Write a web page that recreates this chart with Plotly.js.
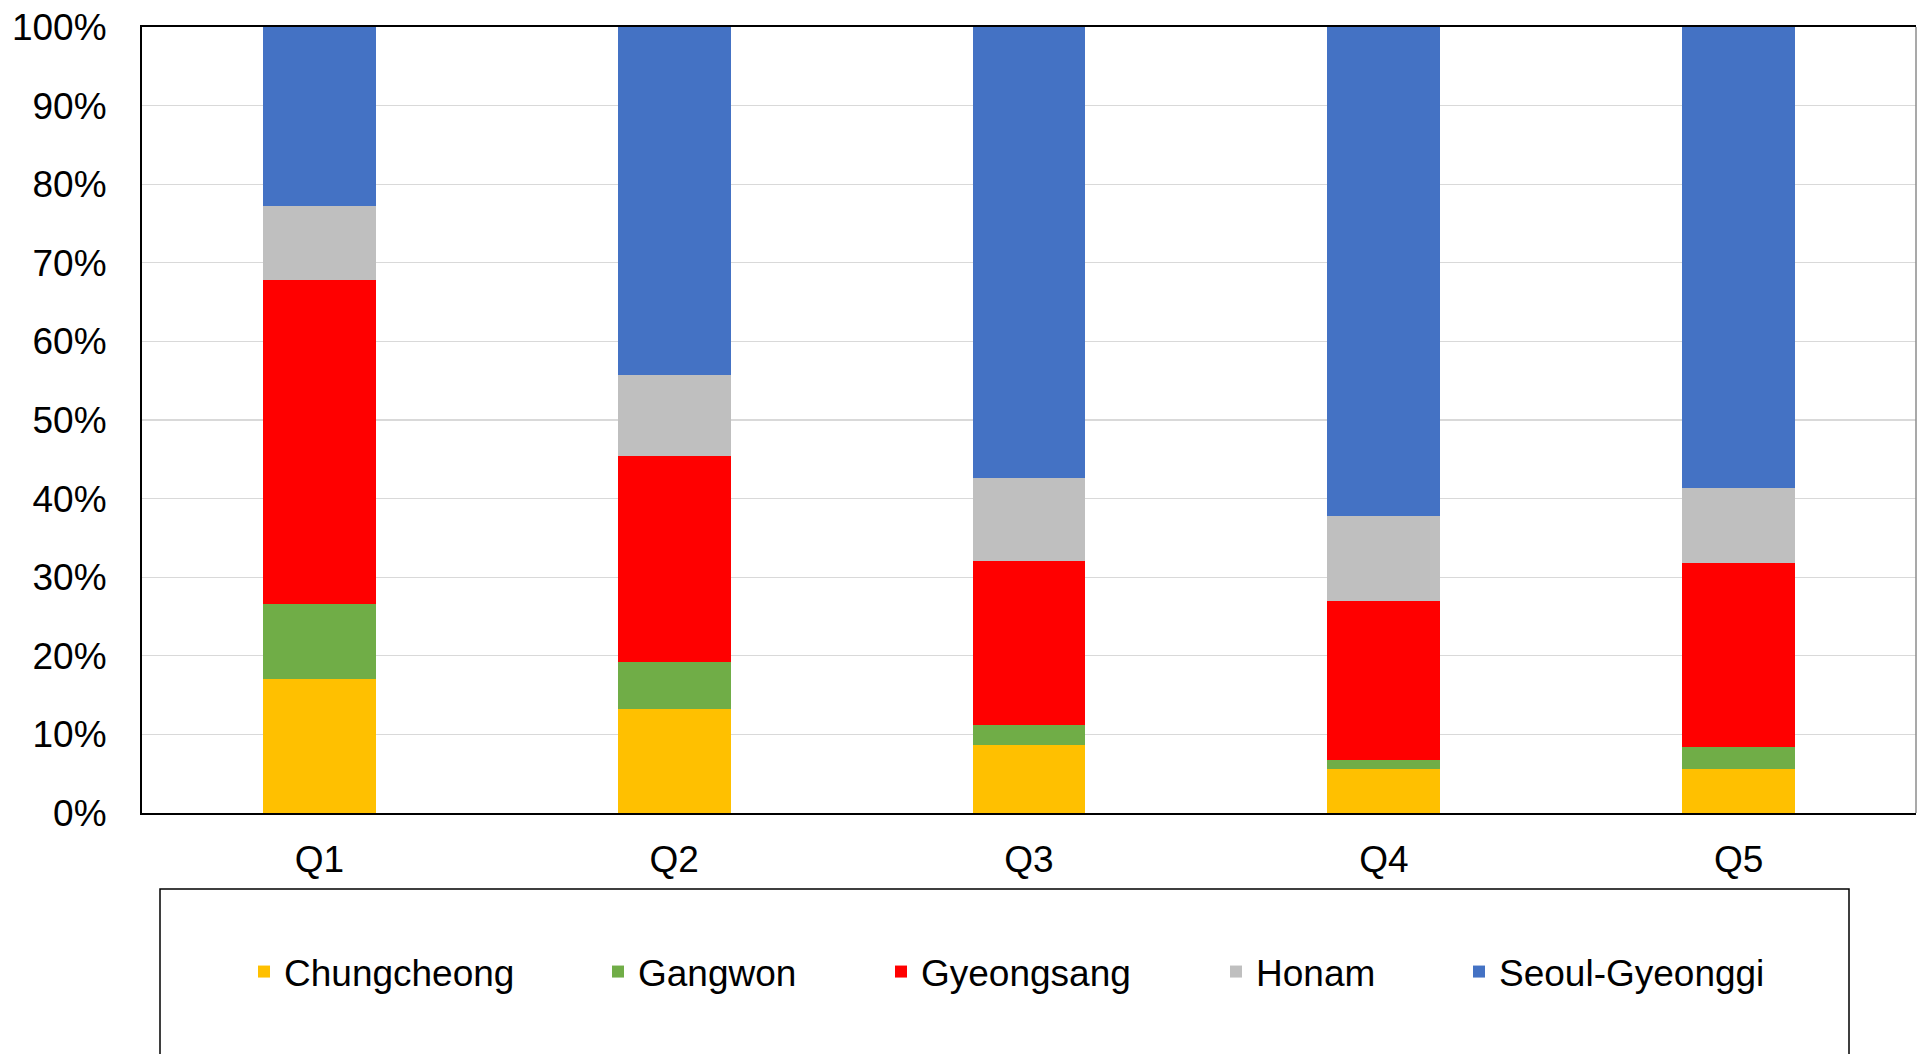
<!DOCTYPE html>
<html>
<head>
<meta charset="utf-8">
<script src="https://cdn.plot.ly/plotly-3.0.1.min.js"></script>
<style>
  html, body { margin: 0; padding: 0; background: #ffffff; }
  #chart { width: 1917px; height: 1054px; }
</style>
</head>
<body>
<div id="chart"></div>
<script>
// Categories (income quintiles)
const categories = ["Q1", "Q2", "Q3", "Q4", "Q5"];

// Regional shares (%) per quintile
const chungcheong   = [17.0, 13.2,  8.6,  5.6,  5.6];
const gangwon       = [ 9.6,  6.0,  2.6,  1.1,  2.8];
const gyeongsang    = [41.2, 26.2, 20.9, 20.3, 23.4];
const honam         = [ 9.4, 10.3, 10.5, 10.8,  9.5];
const seoulGyeonggi = [22.8, 44.3, 57.4, 62.2, 58.7];

const seriesNames  = ["Chungcheong", "Gangwon", "Gyeongsang", "Honam", "Seoul-Gyeonggi"];
const seriesValues = [chungcheong, gangwon, gyeongsang, honam, seoulGyeonggi];
const seriesColors = ["#FFC000", "#70AD47", "#FF0000", "#BFBFBF", "#4472C4"];

// y tick labels
const yTickVals = [0, 10, 20, 30, 40, 50, 60, 70, 80, 90, 100];
const yTickText = yTickVals.map(v => v + "%");

// layout geometry (pixels)
const W = 1917, H = 1054;
const M = { l: 142, r: 1, t: 27, b: 241 };
const plotW = W - M.l - M.r;
const plotH = H - M.t - M.b;
const px2x = px => (px - M.l) / plotW;
const px2y = py => (H - M.b - py) / plotH;

// legend text start positions (px) in the reference
const legendTextX = [284, 638, 921, 1256, 1499];
const legendOffset = 40;
const legendNames = ["legend", "legend2", "legend3", "legend4", "legend5"];

const traces = seriesNames.map((name, i) => ({
  type: "bar",
  name: name,
  x: categories,
  y: seriesValues[i],
  marker: { color: seriesColors[i], line: { width: 0 } },
  width: 0.318,
  legend: legendNames[i],
  showlegend: true,
  hoverinfo: "name+y"
}));

const fontFamily = '"Liberation Sans", Arial, sans-serif';
const fontSize = 37;

const layout = {
  width: W,
  height: H,
  margin: M,
  showlegend: true,
  paper_bgcolor: "#ffffff",
  plot_bgcolor: "#ffffff",
  font: { family: fontFamily, size: fontSize, color: "#000000" },
  barmode: "stack",
  xaxis: {
    type: "category",
    showline: true,
    linecolor: "#000000",
    linewidth: 2,
    mirror: true,
    layer: "below traces",
    ticks: "",
    ticklabelstandoff: 13,
    tickfont: { family: fontFamily, size: fontSize, color: "#000000" },
    showgrid: false,
    zeroline: false,
    fixedrange: true
  },
  yaxis: {
    range: [0, 100],
    tickvals: yTickVals,
    ticktext: yTickText,
    showline: true,
    linecolor: "#000000",
    linewidth: 2,
    layer: "below traces",
    ticks: "",
    ticklabelstandoff: 26,
    tickfont: { family: fontFamily, size: fontSize, color: "#000000" },
    showgrid: true,
    gridcolor: "#D9D9D9",
    gridwidth: 1.3,
    zeroline: false,
    fixedrange: true
  },
  shapes: [
    // right border of plot area
    { type: "line", xref: "paper", yref: "paper", x0: 1, x1: 1, y0: 0, y1: 1,
      line: { color: "#8C8C8C", width: 1.5 } },
    // legend frame
    { type: "rect", xref: "paper", yref: "paper",
      x0: px2x(160), x1: px2x(1849), y0: px2y(889), y1: px2y(1070),
      line: { color: "#000000", width: 1.5 }, fillcolor: "rgba(0,0,0,0)" }
  ]
};

legendNames.forEach((ln, i) => {
  layout[ln] = {
    visible: true,
    orientation: "h",
    x: px2x(legendTextX[i] - legendOffset),
    xanchor: "left",
    y: px2y(972),
    yanchor: "middle",
    bgcolor: "rgba(0,0,0,0)",
    borderwidth: 0,
    font: { family: fontFamily, size: fontSize, color: "#000000" },
    traceorder: "normal"
  };
});

Plotly.newPlot("chart", traces, layout, { displayModeBar: false, staticPlot: true });
</script>
</body>
</html>
